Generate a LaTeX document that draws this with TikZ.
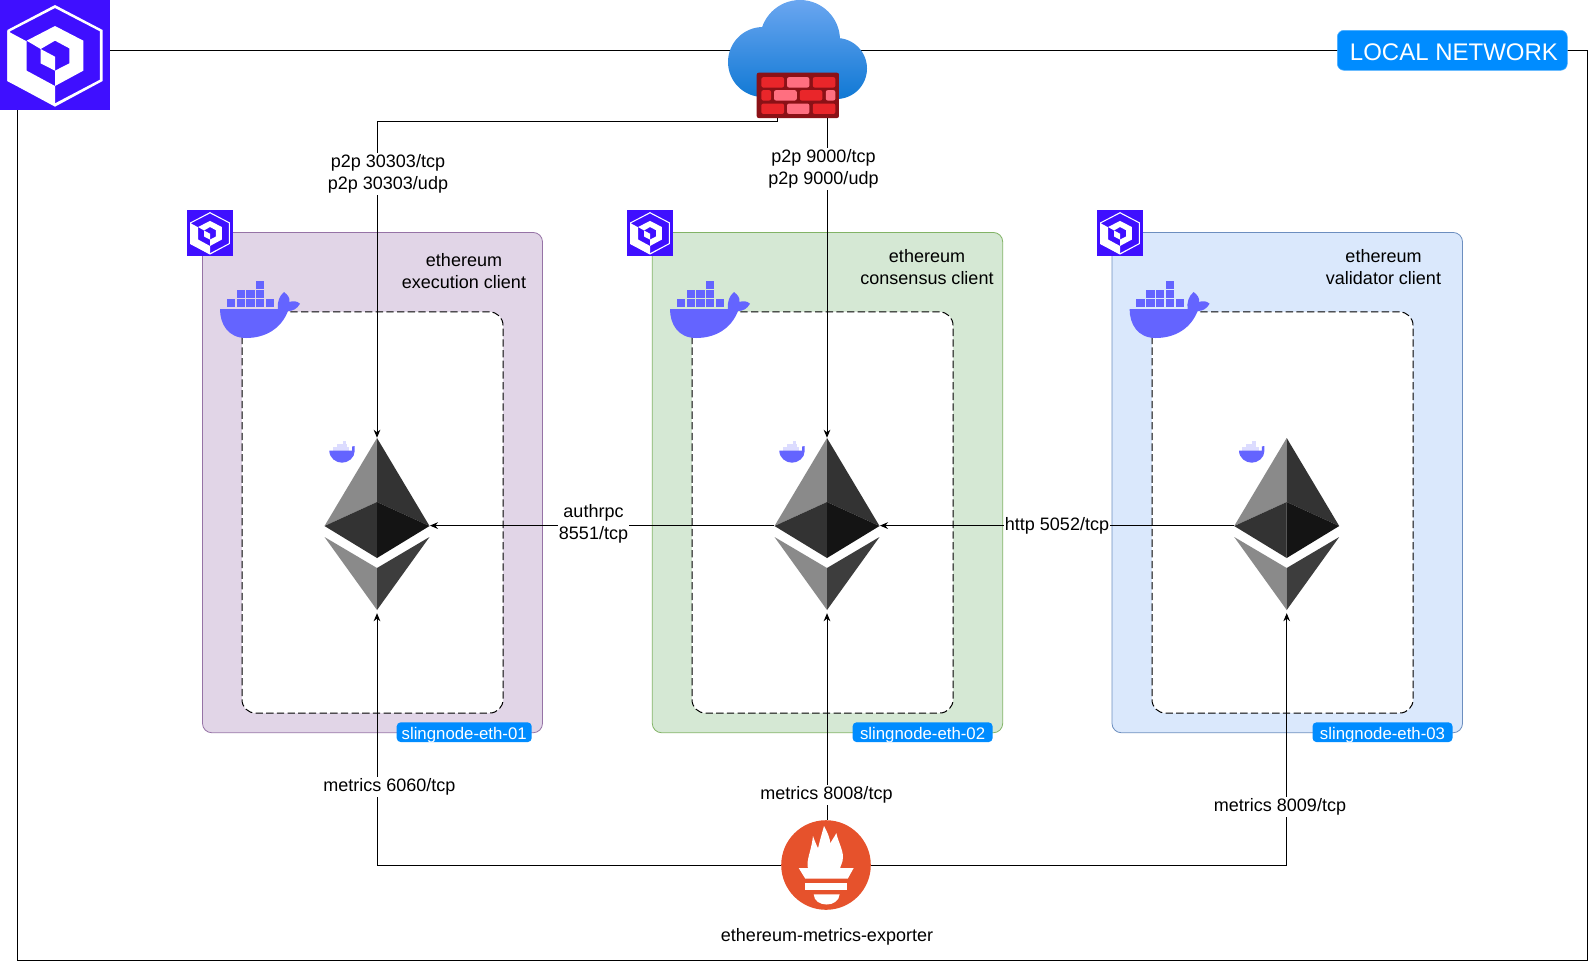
\documentclass[tikz,border=0pt]{standalone}
\usepackage{fontspec}
\setmainfont{Liberation Sans}
\usetikzlibrary{arrows.meta, calc, positioning}
\definecolor{cLogo}{RGB}{63,15,255}
\definecolor{cTag}{RGB}{0,140,255}
\definecolor{cWhale}{RGB}{100,100,255}
\definecolor{cPaleBlock}{RGB}{220,220,255}
\definecolor{cFillPurple}{HTML}{E1D5E7}
\definecolor{cLinePurple}{HTML}{9673A6}
\definecolor{cFillGreen}{HTML}{D5E8D4}
\definecolor{cLineGreen}{HTML}{82B366}
\definecolor{cFillBlue}{HTML}{DAE8FC}
\definecolor{cLineBlue}{HTML}{6C8EBF}
\definecolor{cWallDark}{RGB}{139,17,22}
\definecolor{cBrickRed}{RGB}{233,38,42}
\definecolor{cBrickPink}{RGB}{255,111,128}
\definecolor{cCloudTop}{RGB}{106,166,240}
\definecolor{cCloudLow}{RGB}{15,120,212}
\definecolor{cFlameBg}{RGB}{230,82,44}

\newcommand{\slinglogo}{%
  \fill[white, even odd rule]
    (0,-150) -- (143,-75) -- (143,78) -- (0,155) -- (-143,78) -- (-143,-75) -- cycle
    (0,-141) -- (135,-71) -- (135,74) -- (0,145) -- (-135,74) -- (-135,-71) -- cycle;
  \fill[white] (-143,-72) -- (-85,-41) -- (-85,47) -- (0,93) -- (0,150) -- (-143,78) -- cycle;
  \fill[white] (-85,-43) -- (0,-87) -- (85,-43) -- (85,47) -- (0,93) -- (0,47)
    -- (43,25) -- (43,-20) -- (0,-43) -- (-43,-18) -- cycle;
  \fill[white] (-43,-18) -- (0,5) -- (0,47) -- (-43,25) -- cycle;
}
\newcommand{\whaleart}{%
  \fill[cWhale] (-40,0) -- (18,0) .. controls (17,-6) and (19,-13) .. (24,-17)
    .. controls (28,-14) and (30,-11) .. (29.5,-7)
    .. controls (33,-8.5) and (37,-8) .. (40,-5.3)
    .. controls (37,0) and (33,2) .. (28,2)
    .. controls (21,20) and (5,29) .. (-14,29)
    .. controls (-32,29) and (-40,15) .. (-40,0) -- cycle;
  \foreach \bx/\by in {-4/-28.3, -23.3/-19, -13.7/-19, -4/-19,
      -33.3/-10, -23.3/-10, -13.7/-10, -4/-10, 6/-10}
    \fill[cWhale] (\bx,\by) rectangle ++(8.4,7.8);
}
\newcommand{\miniwhaleart}{%
  \fill[cPaleBlock] (-9.3,-5.5) rectangle (7,-1.3);
  \fill[cPaleBlock] (-5.3,-8) rectangle (4.7,-5.5);
  \fill[cPaleBlock] (0.7,-11) rectangle (4,-8);
  \fill[cWhale] (-12.7,-1.3) -- (10.2,-1.3) -- (10.2,-5.5) -- (12.7,-6) -- (12.7,-1)
    .. controls (12.7,6) and (6,10.7) .. (0,10.7)
    .. controls (-6,10.7) and (-12.7,6) .. (-12.7,-1.3) -- cycle;
}

\tikzset{
  x=0.75pt, y=-0.75pt,
  lbl/.style={font=\fontsize{13.5}{16.7}\selectfont, align=center, inner sep=1pt},
  portlbl/.style={lbl, fill=white},
  flow/.style={-{Stealth[length=6pt,width=5pt]}, line width=0.75pt},
  netbox/.style={draw=black, fill=white, line width=0.75pt, minimum width=1177.1pt, minimum height=682.5pt},
  hostbox/.style={rounded corners=7pt, line width=0.6pt, minimum height=375.2pt, minimum width=#1*0.75pt},
  dockbox/.style={draw=black, dash pattern=on 5.5pt off 2.5pt, fill=white, line width=0.75pt, rounded corners=10pt,
    minimum height=300.8pt, minimum width=#1*0.75pt},
  tagbox/.style={fill=cTag, text=white, rounded corners=3pt, inner sep=0pt, text height=11pt, text depth=0pt,
    font=\fontsize{12.6}{15}\selectfont, minimum width=#1*0.75pt, minimum height=14.8pt},
  logobox/.style={fill=cLogo, inner sep=0pt, minimum size=#1*0.75pt,
    path picture={\begin{scope}[x={#1/330*0.75pt}, y={-#1/330*0.75pt}]\slinglogo\end{scope}}},
  whalebig/.style={inner sep=0pt, minimum width=62pt, minimum height=46pt,
    path picture={\whaleart}},
  whalesmall/.style={inner sep=0pt, minimum width=20pt, minimum height=18pt,
    path picture={\miniwhaleart}},
  ethbox/.style={inner sep=0pt, minimum width=79pt, minimum height=129pt,
    path picture={
      \fill[black!46] (0,-86) -- (-52.5,2) -- (0,-22) -- cycle;
      \fill[black!80] (0,-86) -- (52.5,2) -- (0,-22) -- cycle;
      \fill[black!80] (0,-22) -- (-52.5,2) -- (0,34) -- cycle;
      \fill[black!92] (0,-22) -- (52.5,2) -- (0,34) -- cycle;
      \fill[black!46] (-52.5,13) -- (0,44) -- (0,86) -- cycle;
      \fill[black!76] (52.5,13) -- (0,44) -- (0,86) -- cycle;
    }},
}

\begin{document}
\begin{tikzpicture}
\useasboundingbox (0,0) rectangle (1588,961);

%% ============================================================
%% LOCAL NETWORK FRAME
%% ============================================================
\node[netbox] (network) at (802.25,505) {};

%% ============================================================
%% HOST BOXES
%% ============================================================
\node[hostbox=340, fill=cFillPurple, draw=cLinePurple] (host1) at (372.5,482.6) {};
\node[hostbox=350.4, fill=cFillGreen, draw=cLineGreen] (host2) at (827.5,482.6) {};
\node[hostbox=350.5, fill=cFillBlue, draw=cLineBlue]   (host3) at (1287.25,482.6) {};

\node[dockbox=261] (dock1) at (372.5,512.5) {};
\node[dockbox=261] (dock2) at (822.5,512.5) {};
\node[dockbox=261] (dock3) at (1282.5,512.5) {};

\node[lbl] (name1) at (464,271) {ethereum\\execution client};
\node[lbl] (name2) at (927,267) {ethereum\\consensus client};
\node[lbl] (name3) at (1383.5,267) {ethereum\\validator client};

\node[tagbox=135] (tag1) at (464.2,732.2) {slingnode-eth-01};
\node[tagbox=140] (tag2) at (922.6,732.2) {slingnode-eth-02};
\node[tagbox=140] (tag3) at (1382.5,732.2) {slingnode-eth-03};

\node[whalebig] (whale1) at (260,309) {};
\node[whalebig] (whale2) at (710,309) {};
\node[whalebig] (whale3) at (1169.6,309) {};

%% ============================================================
%% ETHEREUM CLIENTS
%% ============================================================
\node[ethbox] (eth1) at (377,524) {};
\node[ethbox] (eth2) at (827,524) {};
\node[ethbox] (eth3) at (1286.7,524) {};

\node[whalesmall] (mini1) at (342,452) {};
\node[whalesmall] (mini2) at (792,452) {};
\node[whalesmall] (mini3) at (1251.7,452) {};

%% ============================================================
%% CLOUD + FIREWALL
%% ============================================================
\node[inner sep=0pt, minimum width=105pt, minimum height=75pt,
  path picture={
    \shade[top color=cCloudTop, bottom color=cCloudLow]
      (2.5,-10) circle (40) (-34.5,12) circle (35) (39,18.5) circle (30.5);
  }] (cloud) at (797.5,50) {};

\node[fill=cWallDark, rounded corners=1.5pt, inner sep=0pt,
  minimum width=61.7pt, minimum height=34pt,
  path picture={
    \foreach \ax/\bx/\cy/\tone in {
        -36.5/-13.8/-13/cBrickRed, -10.8/11.5/-13/cBrickPink, 14.9/37.5/-13/cBrickRed,
        -36.5/-26.8/0/cBrickRed, -23.8/-1.1/0/cBrickPink, 1.9/24.5/0/cBrickRed, 27.9/37.5/0/cBrickPink,
        -36.5/-13.8/13.4/cBrickRed, -10.8/11.5/13.4/cBrickPink, 14.9/37.5/13.4/cBrickRed}
      \fill[\tone] (\ax,\cy-5.2) rectangle (\bx,\cy+5.2);
  }] (firewall) at (797.85,95.35) {};

%% ============================================================
%% CONNECTORS
%% ============================================================
\draw[flow] ([xshift=-15.1pt]firewall.south) -- ++(0,3.5) -| (eth1.north);
\draw[flow] (firewall.south -| eth2.north) -- (eth2.north);

\draw[flow] ([yshift=-1.2pt]eth2.west) -- ([yshift=-1.2pt]eth1.east);
\draw[flow] ([yshift=-1.2pt]eth3.west) -- ([yshift=-1.2pt]eth2.east);

\node[fill=cFlameBg, circle, inner sep=0pt, minimum size=67.2pt,
  path picture={
    \fill[white] (-18,4) .. controls (-20,-6) and (-15,-12) .. (-13,-29)
      .. controls (-11,-23) and (-9,-19) .. (-8,-16.7)
      .. controls (-6,-25) and (-4,-32) .. (-2,-39)
      .. controls (2,-32) and (4,-26) .. (4.3,-21.7)
      .. controls (6,-25) and (9,-29) .. (10.3,-32)
      .. controls (12,-24) and (17,-15) .. (17,-8)
      .. controls (17,-2) and (14,1) .. (14,4) -- cycle;
    \fill[white] (-27.3,3) -- (27.7,3) -- (21.7,13.7) -- (-20.7,13.7) -- cycle;
    \fill[white] (-20.7,17.7) rectangle (21.3,25.3);
    \fill[white] (-12.3,29.3) -- (13.7,29.3) .. controls (13,36) and (7,39.5) .. (0.7,39.5)
      .. controls (-6,39.5) and (-12,36) .. (-12.3,29.3) -- cycle;
  }] (prom) at (826,865) {};

\draw[flow] (prom.west) -| ([yshift=-2.2pt]eth1.south);
\draw[flow] (prom.east) -| ([yshift=-2.2pt]eth3.south);
\draw[flow] (prom.north -| eth2.south) -- ([yshift=-2.2pt]eth2.south);

%% ============================================================
%% CONNECTOR LABELS
%% ============================================================
\node[portlbl] (p2p1) at (388,174) {p2p 30303/tcp\\p2p 30303/udp};
\node[portlbl] (p2p2) at (823.5,169) {p2p 9000/tcp\\p2p 9000/udp};
\node[portlbl] (auth) at (593.5,523.5) {authrpc\\8551/tcp};
\node[portlbl] (http) at (1057,526) {http 5052/tcp};
\node[portlbl] (met1) at (389.5,787) {metrics 6060/tcp};
\node[portlbl] (met2) at (826.5,795) {metrics 8008/tcp};
\node[portlbl] (met3) at (1280,807) {metrics 8009/tcp};
\node[lbl] (promname) at (827,937) {ethereum-metrics-exporter};

%% ============================================================
%% LOGOS + NETWORK TAG
%% ============================================================
\node[logobox=110] (logo) at (55,55) {};
\node[logobox=46] (logo1) at (210,233) {};
\node[logobox=46] (logo2) at (650,233) {};
\node[logobox=46] (logo3) at (1120,233) {};

\node[fill=cTag, draw=cTag!70, rounded corners=5pt, text=white, inner sep=0pt, text height=15pt,
  font=\fontsize{18}{20}\selectfont, minimum width=172.5pt, minimum height=30pt] (local) at (1452.3,50.3) {\kern2.5pt LOCAL NETWORK};

\end{tikzpicture}
\end{document}
